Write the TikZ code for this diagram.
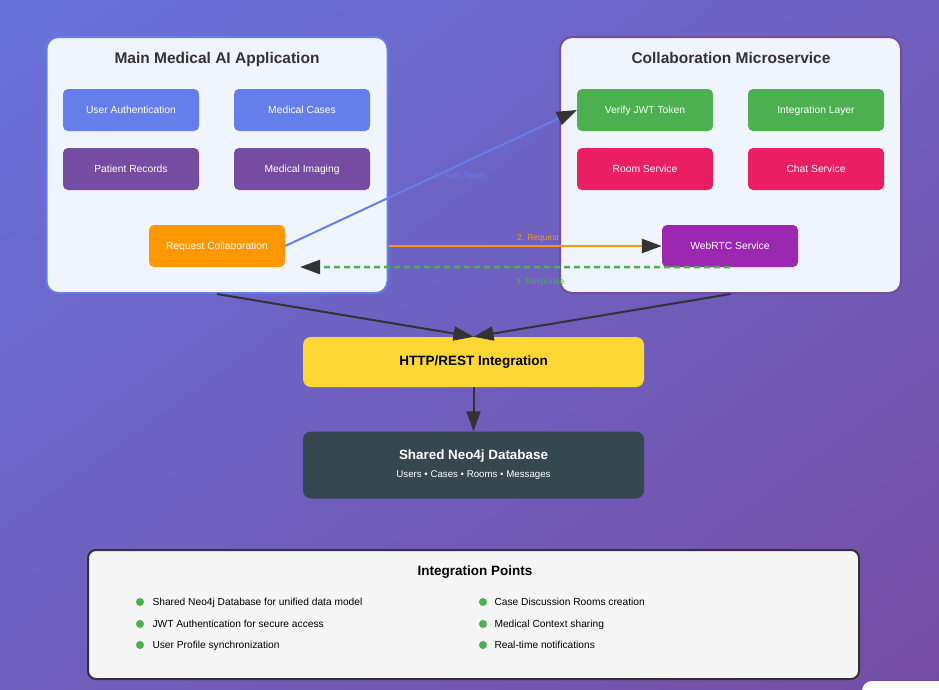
\documentclass[tikz,border=0pt]{standalone}
\usepackage{fontspec}
\setmainfont{Liberation Sans}
\usetikzlibrary{arrows.meta,positioning,shadings}

\definecolor{bgtl}{RGB}{104,114,218}
\definecolor{bgmid}{RGB}{111,95,190}
\definecolor{bgbr}{RGB}{118,77,165}
\definecolor{panelbg}{RGB}{240,244,253}
\definecolor{appblue}{RGB}{102,126,234}
\definecolor{apppurple}{RGB}{118,75,162}
\definecolor{reqorange}{RGB}{255,152,0}
\definecolor{okgreen}{RGB}{76,175,80}
\definecolor{roompink}{RGB}{233,30,99}
\definecolor{rtcviolet}{RGB}{156,39,176}
\definecolor{restyellow}{RGB}{253,216,53}
\definecolor{dbslate}{RGB}{55,71,79}
\definecolor{darkline}{RGB}{51,51,51}
\definecolor{notebg}{RGB}{245,245,245}

\tikzset{
  darktip/.tip={Triangle[length=20pt,width=14pt,color=darkline]},
  panel/.style={rounded corners=12pt, line width=2pt, fill=panelbg,
    minimum width=341pt, minimum height=256pt},
  paneltitle/.style={anchor=base, text=darkline, font=\fontsize{15.5}{18}\selectfont\bfseries},
  comp/.style={rounded corners=5pt, minimum width=136pt, minimum height=42pt,
    text height=7.5pt, text depth=0.5pt,
    text=white, font=\fontsize{10.3}{12}\selectfont},
  flowlbl/.style={font=\fontsize{8.5}{10}\selectfont},
  bullet/.style={circle, fill=okgreen, inner sep=0pt, minimum size=8pt},
  pointtxt/.style={anchor=west, text=black, text height=7.4pt, text depth=0.5pt,
    font=\fontsize{10.2}{12}\selectfont}
}

\begin{document}
\begin{tikzpicture}[x=1pt,y=-1pt]
  \shade[upper left=bgtl, upper right=bgmid, lower left=bgmid, lower right=bgbr]
    (0,0) rectangle (939,689);
  \useasboundingbox (0,0) rectangle (939,689);
  \fill[white, rounded corners=10pt] (862,681) rectangle (980,720);

  % main application
  \node[panel, draw=appblue] (mainapp) at (217,165) {};
  \node[paneltitle] (maintitle) at (217,63) {Main Medical AI Application};
  \node[comp, fill=appblue] (auth) at (131,110) {User Authentication};
  \node[comp, fill=appblue] (cases) at (302,110) {Medical Cases};
  \node[comp, fill=apppurple] (records) at (131,169) {Patient Records};
  \node[comp, fill=apppurple] (imaging) at (302,169) {Medical Imaging};
  \node[comp, fill=reqorange] (reqcol) at (217,246) {Request Collaboration};

  % microservice
  \node[panel, draw=apppurple] (collab) at (730.5,165) {};
  \node[paneltitle] (collabtitle) at (731,63) {Collaboration Microservice};
  \node[comp, fill=okgreen] (jwt) at (645,110) {Verify JWT Token};
  \node[comp, fill=okgreen] (integ) at (816,110) {Integration Layer};
  \node[comp, fill=roompink] (room) at (645,169) {Room Service};
  \node[comp, fill=roompink] (chat) at (816,169) {Chat Service};
  \node[comp, fill=rtcviolet] (webrtc) at (730,246) {WebRTC Service};

  % flows between them
  \draw[appblue, line width=2pt, -darktip] (reqcol.east) -- (jwt.west);
  \node[flowlbl, text=appblue] (authlbl) at (460,175) {1. Auth Token};
  \draw[reqorange, line width=2.5pt, -darktip] (mainapp.east |- reqcol) -- (webrtc.west);
  \node[flowlbl, text=reqorange] (reqlbl) at (538,238) {2. Request};
  \coordinate (respend) at (300,267);
  \draw[okgreen, line width=2.5pt, dash pattern=on 6pt off 4pt, -darktip] (webrtc.south) -- (respend);
  \node[flowlbl, text=okgreen] (resplbl) at (540,282) {3. Response};

  % shared layers
  \node[rounded corners=8pt, fill=restyellow, minimum width=341pt, minimum height=50pt,
    font=\fontsize{13.5}{16}\selectfont\bfseries] (http) at (473.5,362) {HTTP/REST Integration};
  \node[rounded corners=8pt, fill=dbslate, text=white, minimum width=341pt, minimum height=67pt,
    align=center] (db) at (473.5,465)
    {{\fontsize{13.4}{16}\selectfont\bfseries Shared Neo4j Database}\\[6pt]
     {\fontsize{9.7}{11}\selectfont Users • Cases • Rooms • Messages}};
  \draw[darkline, line width=2pt, -darktip] (mainapp.south) -- (http.north);
  \draw[darkline, line width=2pt, -darktip] (collab.south) -- (http.north);
  \draw[darkline, line width=2pt, -darktip] (http) -- (db);

  % integration points
  \node[rounded corners=8pt, draw=darkline, line width=2pt, fill=notebg,
    minimum width=771pt, minimum height=129pt] (points) at (473.5,614.5) {};
  \node[font=\fontsize{13.5}{16}\selectfont\bfseries] (pointstitle) at (475,572) {Integration Points};
  \foreach \y/\left/\right [count=\i] in {602/Shared Neo4j Database for unified data model/Case Discussion Rooms creation,
      624/JWT Authentication for secure access/Medical Context sharing,
      645/User Profile synchronization/Real-time notifications} {
    \node[bullet] (ldot\i) at (140,\y) {};
    \node[pointtxt] (ltxt\i) at (149,\y) {\left};
    \node[bullet] (rdot\i) at (483,\y) {};
    \node[pointtxt] (rtxt\i) at (491,\y) {\right};
  }
\end{tikzpicture}
\end{document}
